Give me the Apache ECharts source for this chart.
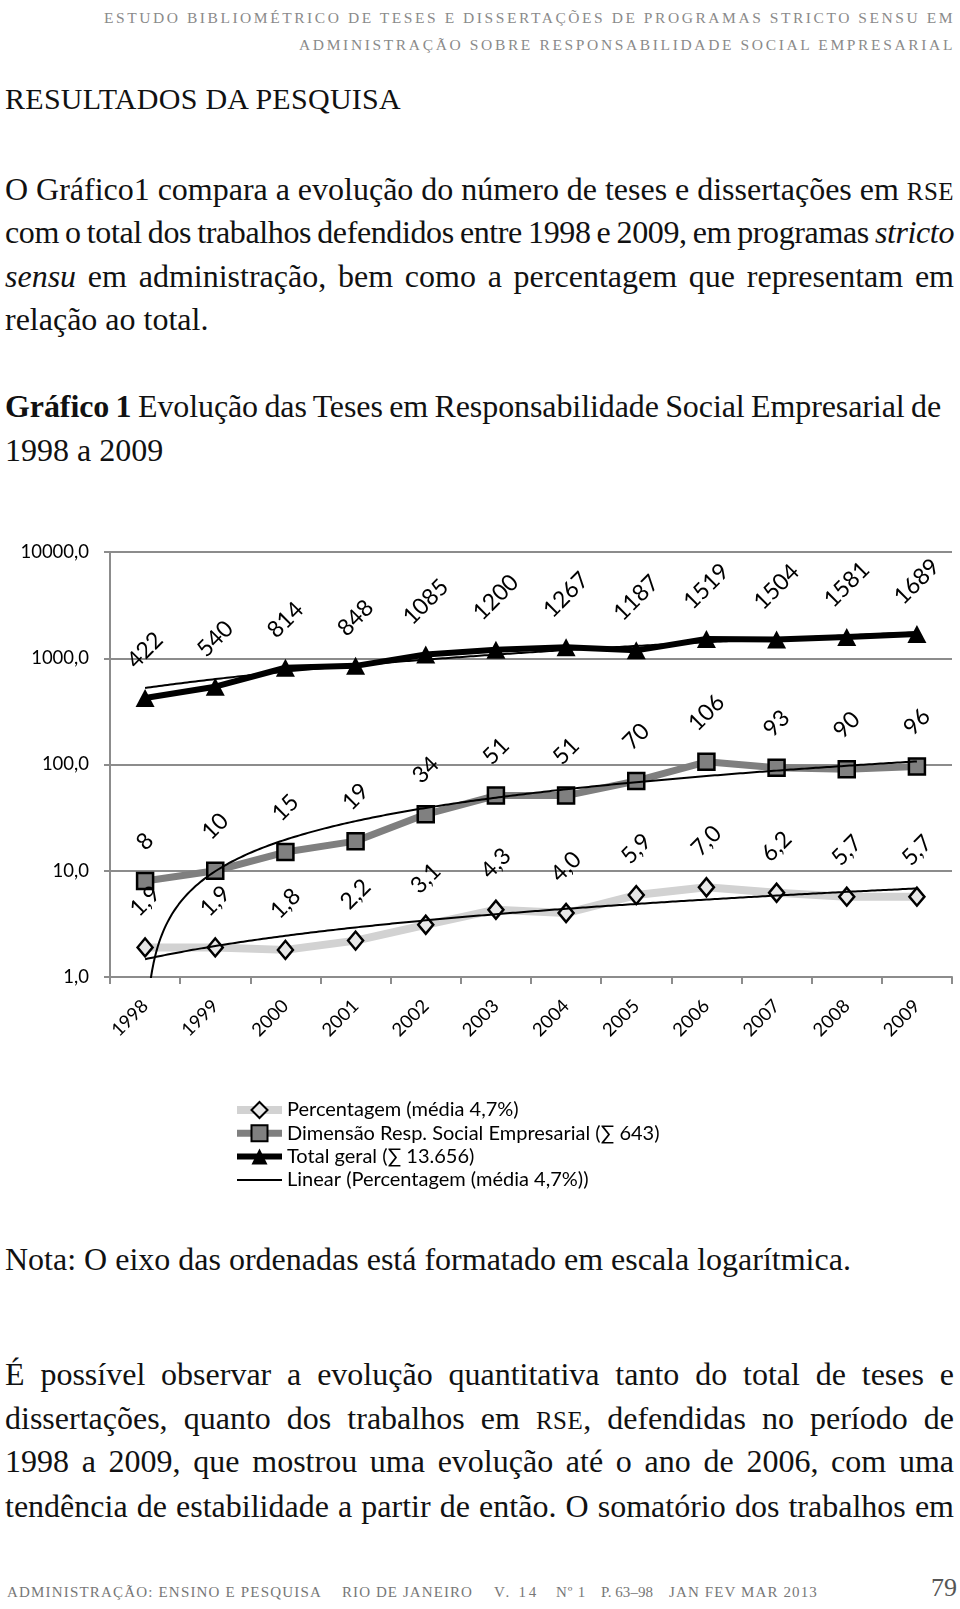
<!DOCTYPE html>
<html>
<head>
<meta charset="utf-8">
<script src="https://cdn.jsdelivr.net/npm/echarts@6/dist/echarts.min.js"></script>
<style>
  html,body{margin:0;padding:0;background:#fff;}
  body{width:960px;height:1609px;position:relative;overflow:hidden;font-family:"Liberation Serif",serif;color:#111;}
  .ln{position:absolute;white-space:nowrap;font-size:32px;line-height:40px;}
  .h1{position:absolute;white-space:nowrap;font-size:30px;line-height:40px;}
  .hd{position:absolute;white-space:nowrap;font-size:15.5px;line-height:20px;color:#8a8a8a;}
  .ft{position:absolute;white-space:nowrap;font-size:15px;line-height:20px;color:#777;}
  .sc{font-size:0.78em;letter-spacing:0.5px;}
  #chart{position:absolute;left:0;top:500px;width:960px;height:720px;}
</style>
</head>
<body>
<div id="chart"></div>

<div class="hd" data-fit="letters" data-w="851" data-right="955" style="top:7.5px">ESTUDO BIBLIOMÉTRICO DE TESES E DISSERTAÇÕES DE PROGRAMAS STRICTO SENSU EM</div>
<div class="hd" data-fit="letters" data-w="656" data-right="955" style="top:35px">ADMINISTRAÇÃO SOBRE RESPONSABILIDADE SOCIAL EMPRESARIAL</div>

<div class="h1" data-fit="letters" data-w="396" style="left:5px;top:79px">RESULTADOS DA PESQUISA</div>

<div class="ln" data-fit="words" data-w="949" style="left:5px;top:169px">O Gráfico1 compara a evolução do número de teses e dissertações em <span class="sc">RSE</span></div>
<div class="ln" data-fit="words" data-w="949" style="left:5px;top:212px">com o total dos trabalhos defendidos entre 1998 e 2009, em programas <i>stricto</i></div>
<div class="ln" data-fit="words" data-w="949" style="left:5px;top:256px"><i>sensu</i> em administração, bem como a percentagem que representam em</div>
<div class="ln" style="left:5px;top:299px">relação ao total.</div>

<div class="ln" data-fit="words" data-w="936" style="left:5px;top:386px"><b>Gráfico 1</b> Evolução das Teses em Responsabilidade Social Empresarial de</div>
<div class="ln" style="left:5px;top:430px">1998 a 2009</div>

<div class="ln" style="left:5px;top:1239px">Nota: O eixo das ordenadas está formatado em escala logarítmica.</div>

<div class="ln" data-fit="words" data-w="949" style="left:5px;top:1354px">É possível observar a evolução quantitativa tanto do total de teses e</div>
<div class="ln" data-fit="words" data-w="949" style="left:5px;top:1398px">dissertações, quanto dos trabalhos em <span class="sc">RSE</span>, defendidas no período de</div>
<div class="ln" data-fit="words" data-w="949" style="left:5px;top:1441px">1998 a 2009, que mostrou uma evolução até o ano de 2006, com uma</div>
<div class="ln" data-fit="words" data-w="949" style="left:5px;top:1486px">tendência de estabilidade a partir de então. O somatório dos trabalhos em</div>

<div class="ft" data-fit="letters" data-w="315" style="left:7px;top:1582px">ADMINISTRAÇÃO: ENSINO E PESQUISA</div>
<div class="ft" data-fit="letters" data-w="131" style="left:342px;top:1582px">RIO DE JANEIRO</div>
<div class="ft" data-fit="letters" data-w="45" style="left:494px;top:1582px">V. 14</div>
<div class="ft" data-fit="letters" data-w="30" style="left:556px;top:1582px">Nº 1</div>
<div class="ft" data-fit="letters" data-w="52" style="left:601px;top:1582px">P. 63–98</div>
<div class="ft" data-fit="letters" data-w="149" style="left:669px;top:1582px">JAN FEV MAR 2013</div>
<div style="position:absolute;left:931px;top:1573px;font-size:26px;line-height:30px;color:#555;">79</div>

<script>
// ---- data ----
const years = ['1998','1999','2000','2001','2002','2003','2004','2005','2006','2007','2008','2009'];
const totalGeral = [422, 540, 814, 848, 1085, 1200, 1267, 1187, 1519, 1504, 1581, 1689];
const dimensaoRSE = [8, 10, 15, 19, 34, 51, 51, 70, 106, 93, 90, 96];
const percentagem = [1.9, 1.9, 1.8, 2.2, 3.1, 4.3, 4.0, 5.9, 7.0, 6.2, 5.7, 5.7];
const yTickValues = [1, 10, 100, 1000, 10000];
const seriesNames = [
  'Percentagem (média 4,7%)',
  'Dimensão Resp. Social Empresarial (∑ 643)',
  'Total geral (∑ 13.656)',
  'Linear (Percentagem (média 4,7%))'
];

// ---- text fitting (layout only) ----
document.querySelectorAll('[data-fit]').forEach(el => {
  const target = parseFloat(el.dataset.w);
  const mode = el.dataset.fit;
  el.style.letterSpacing = '0px';
  el.style.wordSpacing = '0px';
  const txt = el.textContent;
  let w = el.getBoundingClientRect().width;
  if (mode === 'words') {
    const n = (txt.match(/ /g) || []).length;
    let ws = n > 0 ? (target - w) / n : 0;
    if (ws < -1.5) {
      // too tight for word spaces alone: tighten letters a little
      el.style.wordSpacing = '-1.5px';
      w = el.getBoundingClientRect().width;
      el.style.letterSpacing = ((target - w) / txt.length) + 'px';
      w = el.getBoundingClientRect().width;
      el.style.wordSpacing = (-1.5 + (target - w) / n) + 'px';
    } else if (n > 0) {
      el.style.wordSpacing = ws + 'px';
    }
  } else {
    el.style.letterSpacing = ((target - w) / txt.length) + 'px';
  }
  if (el.dataset.right) {
    el.style.left = (parseFloat(el.dataset.right) - target) + 'px';
  }
});

// ---- linear trend lines (least squares on the series, like the spreadsheet trendline) ----
function linearTrend(vals) {
  const n = vals.length;
  let sx = 0, sy = 0, sxx = 0, sxy = 0;
  vals.forEach((v, i) => { const x = i + 1; sx += x; sy += v; sxx += x * x; sxy += x * v; });
  const a = (n * sxy - sx * sy) / (n * sxx - sx * sx);
  const b = (sy - a * sx) / n;
  const pts = [];
  for (let k = 0; k <= (n - 1) * 50; k++) {
    const x = 1 + k / 50;
    pts.push([x, a * x + b]);
  }
  return pts;
}

const fmtDec = v => Number(v).toFixed(1).replace('.', ',');
const fmtInt = v => String(v);
const FONT = 'Lato';
const LABEL_FS = 23;
const measureCtx = document.createElement('canvas').getContext('2d');
measureCtx.font = LABEL_FS + 'px ' + FONT;

// rotated labels sit with their bounding box a fixed gap above the marker
function labelled(vals, fmt, symbolHalf) {
  return vals.map(v => {
    const w = measureCtx.measureText(fmt(v)).width;
    const centerOffset = 25.5 + (w + LABEL_FS) / (2 * Math.SQRT2);
    return { value: v, label: { distance: centerOffset - symbolHalf } };
  });
}
function dataLabel(fmt) {
  return {
    show: true, position: 'top', rotate: 45,
    align: 'center', verticalAlign: 'middle',
    fontFamily: FONT, fontSize: LABEL_FS, color: '#000',
    formatter: p => fmt(p.value)
  };
}
const axisGray = '#8c8c8c';

const chart = echarts.init(document.getElementById('chart'), null, {renderer: 'canvas'});
chart.setOption({
  animation: false,
  backgroundColor: 'transparent',
  grid: { left: 110, right: 8, top: 52, height: 425, containLabel: false },
  legend: {
    orient: 'vertical', left: 233, top: 600, padding: 0,
    itemWidth: 45, itemHeight: 20, itemGap: 3.3,
    selectedMode: false,
    textStyle: { fontFamily: FONT, fontSize: 20, lineHeight: 20, color: '#000' },
    data: [
      { name: seriesNames[0], lineStyle: { width: 8 } },
      { name: seriesNames[1], lineStyle: { width: 7 } },
      { name: seriesNames[2], lineStyle: { width: 6 } },
      { name: seriesNames[3], lineStyle: { width: 2 }, itemStyle: { opacity: 0 } }
    ]
  },
  xAxis: [{
    type: 'category', data: years, boundaryGap: true,
    axisLine: { lineStyle: { color: axisGray, width: 2 } },
    axisTick: { show: true, length: 7, lineStyle: { color: axisGray, width: 2 } },
    axisLabel: { rotate: 45, margin: 26, fontFamily: FONT, fontSize: 18.5, color: '#000' }
  }, {
    type: 'value', min: 0.5, max: 12.5, show: false
  }],
  yAxis: {
    type: 'log', logBase: 10, min: yTickValues[0], max: yTickValues[yTickValues.length - 1],
    axisLine: { show: true, lineStyle: { color: axisGray, width: 2 } },
    axisTick: { show: true, length: 6, lineStyle: { color: axisGray, width: 2 } },
    splitLine: { show: true, lineStyle: { color: axisGray, width: 2 } },
    axisLabel: { margin: 21, fontFamily: FONT, fontSize: 18.5, color: '#000', formatter: v => fmtDec(v) }
  },
  series: [
    {
      name: seriesNames[0], type: 'line', data: labelled(percentagem, fmtDec, 9),
      symbol: 'diamond', symbolSize: [15, 18],
      lineStyle: { color: '#d2d2d2', width: 8 },
      itemStyle: { color: '#e8e8e8', borderColor: '#000', borderWidth: 2.5 },
      label: dataLabel(fmtDec), z: 2
    },
    {
      name: seriesNames[1], type: 'line', data: labelled(dimensaoRSE, fmtInt, 8),
      symbol: 'rect', symbolSize: 16,
      lineStyle: { color: '#7f7f7f', width: 7 },
      itemStyle: { color: '#808080', borderColor: '#000', borderWidth: 2.5 },
      label: dataLabel(fmtInt), z: 2
    },
    {
      name: seriesNames[2], type: 'line', data: labelled(totalGeral, fmtInt, 9),
      symbol: 'triangle', symbolSize: [19, 18],
      lineStyle: { color: '#000', width: 6 },
      itemStyle: { color: '#000' },
      label: dataLabel(fmtInt), z: 2
    },
    {
      name: seriesNames[3], type: 'line', xAxisIndex: 1, data: linearTrend(percentagem),
      showSymbol: false, symbol: 'none', silent: true, clip: true,
      lineStyle: { color: '#000', width: 2 }, itemStyle: { color: '#000' }, z: 4
    },
    {
      name: 'Linear (Dimensão)', type: 'line', xAxisIndex: 1, data: linearTrend(dimensaoRSE),
      showSymbol: false, symbol: 'none', silent: true, clip: true,
      lineStyle: { color: '#000', width: 2 }, itemStyle: { color: '#000' }, z: 4
    },
    {
      name: 'Linear (Total geral)', type: 'line', xAxisIndex: 1, data: linearTrend(totalGeral),
      showSymbol: false, symbol: 'none', silent: true, clip: true,
      lineStyle: { color: '#000', width: 2 }, itemStyle: { color: '#000' }, z: 1
    }
  ]
});
</script>
</body>
</html>
